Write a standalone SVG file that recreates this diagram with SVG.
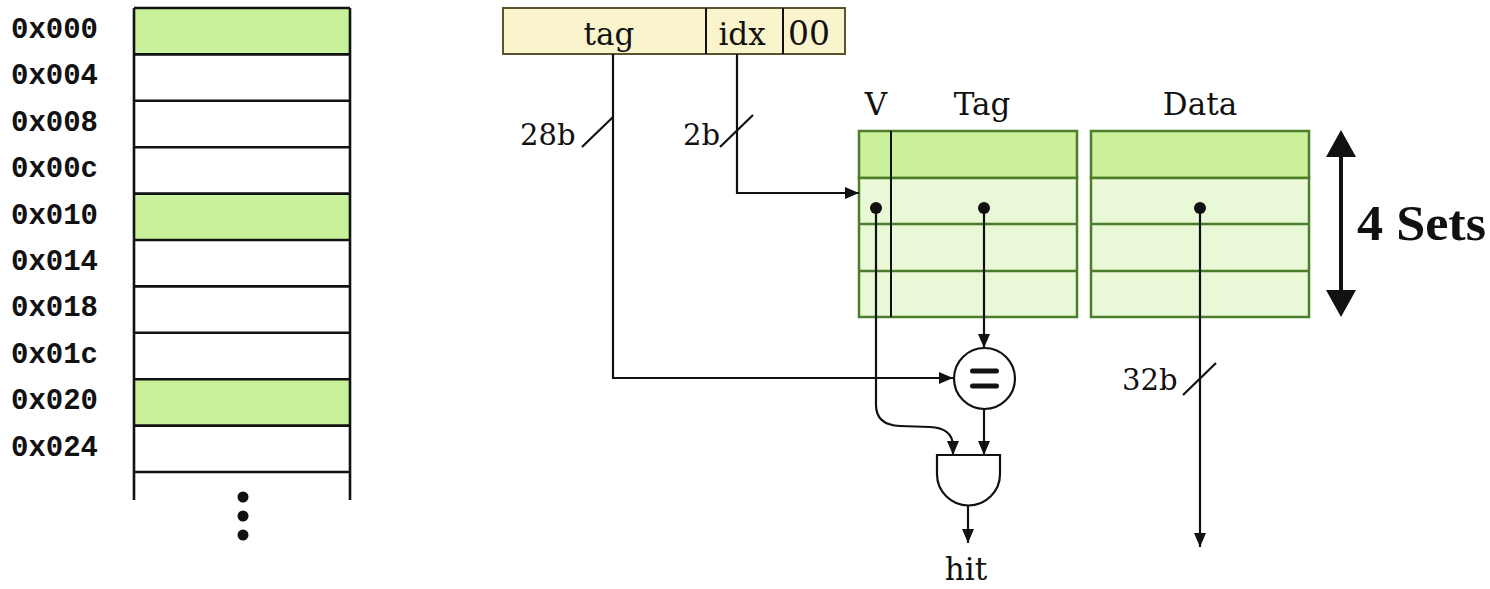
<svg xmlns="http://www.w3.org/2000/svg" width="1490" height="589" viewBox="0 0 1490 589">
<style>
.mono{font-family:"Liberation Mono","DejaVu Sans Mono",monospace;font-size:29px;font-weight:bold;fill:#111}
.ser{font-family:"DejaVu Serif","Liberation Serif",serif;font-size:31px;fill:#111}
.bold{font-family:"Liberation Serif","DejaVu Serif",serif;font-size:50px;font-weight:bold;fill:#111}
.memline{stroke:#111;stroke-width:2.6;fill:none}
.addr{fill:#f9f4cb;stroke:#5b5230;stroke-width:2}
.arrHead{fill:#cbf09b;stroke:#4b7d2a;stroke-width:2.5}
.arrBody{fill:#e9f8d6;stroke:#4b7d2a;stroke-width:2.5}
.grid{stroke:#4b7d2a;stroke-width:2.5}
.wire{stroke:#111;stroke-width:2.2;fill:none}
.dot{fill:#111}
</style>
<defs>
<marker id="ah" markerUnits="userSpaceOnUse" markerWidth="14" markerHeight="12" refX="14" refY="6" orient="auto">
<path d="M0,0 L14,6 L0,12 z" fill="#111"/>
</marker>
</defs>

<g id="memory">
<rect x="134" y="8" width="216" height="46.4" fill="#c9f09a"/>
<rect x="134" y="193.6" width="216" height="46.4" fill="#c9f09a"/>
<rect x="134" y="379.2" width="216" height="46.4" fill="#c9f09a"/>
<path class="memline" d="M134,8 H350 M134,54.4 H350 M134,100.8 H350 M134,147.2 H350 M134,193.6 H350 M134,240 H350 M134,286.4 H350 M134,332.8 H350 M134,379.2 H350 M134,425.6 H350 M134,472 H350 M134,8 V500 M350,8 V500"/>
<circle class="dot" cx="243" cy="497" r="5.5"/>
<circle class="dot" cx="243" cy="516" r="5.5"/>
<circle class="dot" cx="243" cy="535" r="5.5"/>
<text class="mono" x="11" y="38">0x000</text>
<text class="mono" x="11" y="84.4">0x004</text>
<text class="mono" x="11" y="130.8">0x008</text>
<text class="mono" x="11" y="177.2">0x00c</text>
<text class="mono" x="11" y="223.6">0x010</text>
<text class="mono" x="11" y="270">0x014</text>
<text class="mono" x="11" y="316.4">0x018</text>
<text class="mono" x="11" y="362.8">0x01c</text>
<text class="mono" x="11" y="409.2">0x020</text>
<text class="mono" x="11" y="455.6">0x024</text>
</g>

<g id="address">
<rect class="addr" x="503" y="8" width="342" height="46"/>
<line x1="706" y1="8" x2="706" y2="54" stroke="#111" stroke-width="2"/>
<line x1="783" y1="8" x2="783" y2="54" stroke="#111" stroke-width="2"/>
<text class="ser" x="609" y="45" text-anchor="middle">tag</text>
<text class="ser" x="742" y="45" text-anchor="middle">idx</text>
<text class="ser" x="809" y="45" text-anchor="middle" style="font-size:33px">00</text>
</g>

<g id="tag-array">
<rect class="arrHead" x="859" y="131" width="218" height="47"/>
<rect class="arrBody" x="859" y="178" width="218" height="139"/>
<path class="grid" d="M859,224 H1077 M859,271 H1077"/>
<line x1="891" y1="131" x2="891" y2="317" stroke="#111" stroke-width="2"/>
<text class="ser" x="876" y="115" text-anchor="middle">V</text>
<text class="ser" x="982" y="115" text-anchor="middle">Tag</text>
</g>

<g id="data-array">
<rect class="arrHead" x="1091" y="131" width="218" height="47"/>
<rect class="arrBody" x="1091" y="178" width="218" height="139"/>
<path class="grid" d="M1091,224 H1309 M1091,271 H1309"/>
<text class="ser" x="1200" y="115" text-anchor="middle">Data</text>
</g>

<g id="sets">
<line x1="1341" y1="150" x2="1341" y2="297" stroke="#111" stroke-width="4"/>
<path d="M1341,130 L1326,157 L1356,157 z M1341,317 L1326,290 L1356,290 z" fill="#111"/>
<text class="bold" x="1357" y="240" textLength="129" lengthAdjust="spacingAndGlyphs">4 Sets</text>
</g>

<g id="comparator">
<circle cx="984.5" cy="378.5" r="30.5" fill="#fff" stroke="#111" stroke-width="2.2"/>
<path d="M972.5,371 H996.5 M972.5,386 H996.5" stroke="#111" stroke-width="5" stroke-linecap="round"/>
</g>

<g id="and-gate">
<path d="M937,455 H1000 V474 A31.5,31.5 0 0 1 937,474 Z" fill="#fff" stroke="#111" stroke-width="2.2"/>
</g>

<g id="hit">
<text class="ser" x="966" y="580" text-anchor="middle">hit</text>
</g>

<g id="connectors">
<path class="wire" d="M613,54 V378 H953" marker-end="url(#ah)"/>
<path class="wire" d="M737,54 V193 H859" marker-end="url(#ah)"/>
<path class="wire" d="M582,147 L613,117"/>
<path class="wire" d="M720,147 L753,115"/>
<text class="ser" x="520" y="145" style="font-size:29px">28b</text>
<text class="ser" x="683" y="145" style="font-size:29px">2b</text>
<circle class="dot" cx="876" cy="208" r="6"/>
<circle class="dot" cx="984" cy="208" r="6"/>
<circle class="dot" cx="1200" cy="208" r="6"/>
<path class="wire" d="M984,208 V348" marker-end="url(#ah)"/>
<path class="wire" d="M876,208 V405 Q876,425 900,426 L930,427 Q952,428 953,445 V455" marker-end="url(#ah)"/>
<path class="wire" d="M984,409 V455" marker-end="url(#ah)"/>
<path class="wire" d="M968,505 V543" marker-end="url(#ah)"/>
<path class="wire" d="M1200,208 V547" marker-end="url(#ah)"/>
<path class="wire" d="M1183,395 L1216,363"/>
<text class="ser" x="1122" y="390" style="font-size:29px">32b</text>
</g>
</svg>
